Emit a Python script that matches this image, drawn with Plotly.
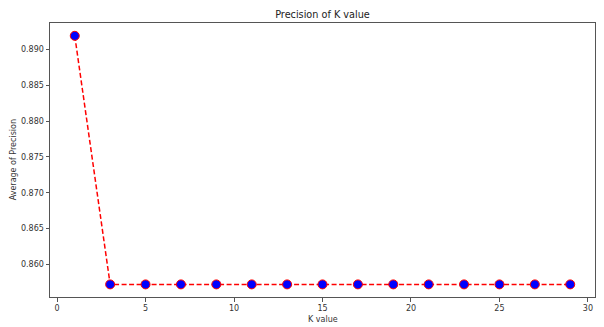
import plotly.graph_objects as go

k_values = [1, 3, 5, 7, 9, 11, 13, 15, 17, 19, 21, 23, 25, 27, 29]
precision = [0.8919] + [0.8572] * 14
x_ticks = [0, 5, 10, 15, 20, 25, 30]
y_ticks = [0.860, 0.865, 0.870, 0.875, 0.880, 0.885, 0.890]

fig = go.Figure()
fig.add_trace(go.Scatter(
    x=k_values, y=precision, mode="lines+markers",
    line=dict(color="red", dash="5px,2.5px", width=1.5),
    marker=dict(color="blue", size=9, line=dict(color="red", width=1)),
))

font = dict(family="DejaVu Sans", size=8, color="#333")
axis_common = dict(showgrid=False, zeroline=False, showline=True, linecolor="#555",
                   linewidth=1, mirror=True, ticks="outside", ticklen=3.5,
                   tickcolor="#555", tickfont=font, automargin=False)
# The page body adds an 8px margin, so the figure is offset accordingly.
fig.update_layout(
    width=596, height=319,
    margin=dict(l=42, r=9, t=15, b=30),
    plot_bgcolor="white", paper_bgcolor="white",
    showlegend=False,
    title=dict(text="Precision of K value", x=0.5, xanchor="center", y=0.978, yanchor="middle",
               xref="paper", font=dict(family="DejaVu Sans", size=9.7, color="#222")),
    xaxis=dict(range=[-0.4, 30.4], tickvals=x_ticks, ticktext=[str(v) for v in x_ticks],
               **axis_common),
    yaxis=dict(range=[0.85544, 0.89369], tickvals=y_ticks, ticktext=[f"{v:.3f}" for v in y_ticks],
               **axis_common),
    annotations=[
        dict(text="K value", xref="paper", yref="paper", x=0.5, y=-0.0827,
             xanchor="center", yanchor="middle", showarrow=False,
             font=dict(family="DejaVu Sans", size=8, color="#333")),
        dict(text="Average of Precision", xref="paper", yref="paper", x=-0.0673, y=0.5,
             xanchor="center", yanchor="middle", textangle=-90, showarrow=False,
             font=dict(family="DejaVu Sans", size=8, color="#333")),
    ],
)
fig.write_html("out.html")
